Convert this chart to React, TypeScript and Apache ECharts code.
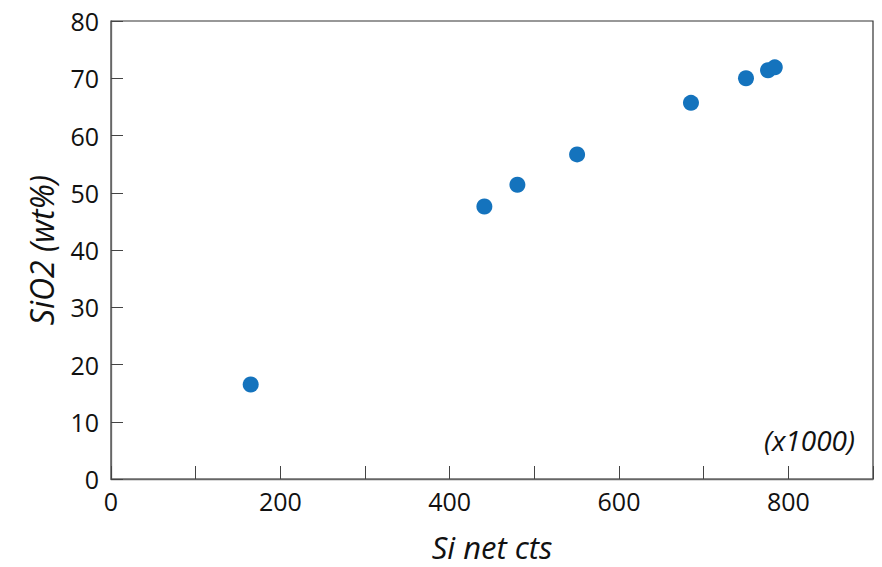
import React, { useEffect, useRef } from "react";
import * as echarts from "echarts";

// Si net counts (thousands) vs SiO2 wt%
const siNetCts: number[] = [165, 441, 480, 550.5, 685, 750, 776, 784];
const sio2Wt: number[] = [16.5, 47.6, 51.4, 56.7, 65.7, 70.0, 71.4, 71.9];

const xTitle = "Si net cts";
const yTitle = "SiO2 (wt%)";
const scaleNote = "(x1000)";

const FONT = "'Open Sans', 'Noto Sans', sans-serif";

export default function App() {
  const ref = useRef<HTMLDivElement>(null);

  useEffect(() => {
    if (!ref.current) return;
    const chart = echarts.init(ref.current, undefined, { renderer: "svg" });
    const points = siNetCts.map((x, i) => [x, sio2Wt[i]]);
    chart.setOption({
      animation: false,
      backgroundColor: "#ffffff",
      grid: {
        left: 111,
        top: 21,
        right: 9,
        bottom: 81,
        show: true,
        borderColor: "#333333",
        borderWidth: 1.2,
      },
      xAxis: {
        type: "value",
        min: 0,
        max: 900,
        interval: 100,
        name: xTitle,
        nameLocation: "middle",
        nameGap: 52,
        nameTextStyle: { fontFamily: FONT, fontStyle: "italic", fontSize: 31, color: "#111" },
        axisLine: { show: true, onZero: false, lineStyle: { color: "#666", width: 1.3 } },
        axisTick: { show: true, inside: true, length: 13, lineStyle: { color: "#444", width: 1 } },
        axisLabel: {
          fontFamily: FONT,
          fontSize: 25,
          color: "#111",
          margin: 9,
          formatter: (v: number) => (v % 200 === 0 ? String(v) : ""),
        },
        splitLine: { show: false },
      },
      yAxis: {
        type: "value",
        min: 0,
        max: 80,
        interval: 10,
        name: yTitle,
        nameLocation: "middle",
        nameGap: 54,
        nameTextStyle: { fontFamily: FONT, fontStyle: "italic", fontSize: 32, color: "#111" },
        axisLine: { show: true, onZero: false, lineStyle: { color: "#666", width: 1.3 } },
        axisTick: { show: true, inside: true, length: 12, lineStyle: { color: "#444", width: 1 } },
        axisLabel: { fontFamily: FONT, fontSize: 25, color: "#111", margin: 12 },
        splitLine: { show: false },
      },
      graphic: [
        {
          type: "text",
          right: 27,
          top: 426,
          style: {
            text: scaleNote,
            fontFamily: FONT,
            fontStyle: "italic",
            fontSize: 28,
            fill: "#111",
          },
        },
      ],
      series: [
        {
          type: "scatter",
          data: points,
          symbol: "circle",
          symbolSize: 16,
          itemStyle: { color: "#1473bd", opacity: 1 },
        },
      ],
    });
    return () => chart.dispose();
  }, []);

  return <div ref={ref} style={{ width: 882, height: 567, position: "absolute", left: 0, top: 0 }} />;
}
